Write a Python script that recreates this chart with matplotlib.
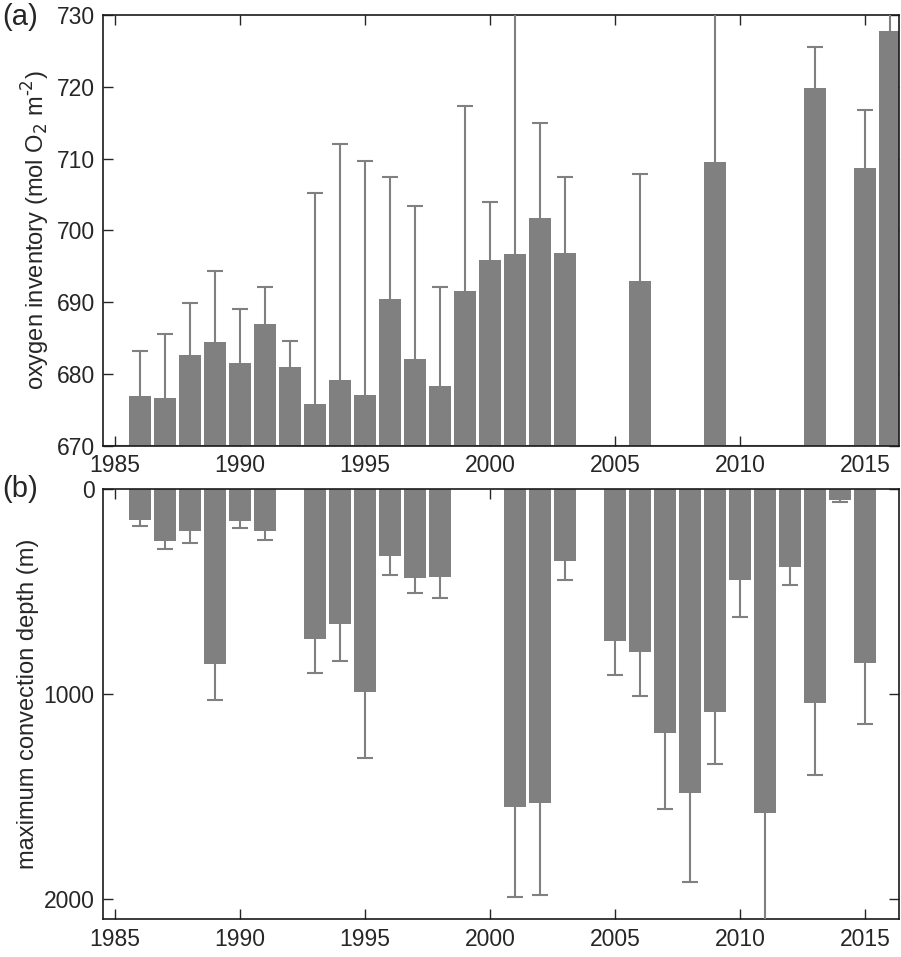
import numpy as np
import matplotlib
matplotlib.use("Agg")
import matplotlib.pyplot as plt

plt.rcParams["font.family"] = ["Liberation Sans", "DejaVu Sans"]

# (a) oxygen inventory, upper error bar end
o2_years = [1986, 1987, 1988, 1989, 1990, 1991, 1992, 1993, 1994, 1995, 1996,
            1997, 1998, 1999, 2000, 2001, 2002, 2003, 2006, 2009, 2013, 2015, 2016]
o2_value = [676.9, 676.6, 682.6, 684.4, 681.5, 687.0, 681.0, 675.8, 679.2, 677.1, 690.4,
            682.1, 678.3, 691.6, 695.9, 696.7, 701.7, 696.8, 692.9, 709.5, 719.8, 708.7, 727.8]
o2_upper = [683.2, 685.5, 689.9, 694.3, 689.0, 692.1, 684.6, 705.2, 712.0, 709.7, 707.5,
            703.4, 692.1, 717.3, 704.0, 740.0, 715.0, 707.5, 707.8, 740.0, 725.5, 716.8, 740.0]

# (b) maximum convection depth, lower (deeper) error bar end
mcd_years = [1986, 1987, 1988, 1989, 1990, 1991, 1993, 1994, 1995, 1996, 1997, 1998,
             2001, 2002, 2003, 2005, 2006, 2007, 2008, 2009, 2010, 2011, 2012, 2013, 2014, 2015]
mcd_value = [151, 252, 205, 852, 156, 205, 730, 659, 989, 327, 433, 429,
             1554, 1530, 353, 740, 794, 1189, 1486, 1086, 446, 1582, 379, 1042, 52, 847]
mcd_lower = [180, 293, 263, 1029, 190, 249, 896, 839, 1311, 420, 507, 530,
             1989, 1980, 442, 907, 1010, 1561, 1920, 1341, 623, 2250, 468, 1398, 63, 1146]

xticks = [1985, 1990, 1995, 2000, 2005, 2010, 2015]

BAR = "#808080"
TXT = "#262626"

fig = plt.figure(figsize=(9.01, 9.57), dpi=100)
ax1 = fig.add_axes([0.1143, 0.5343, 0.8835, 0.4500])
ax2 = fig.add_axes([0.1143, 0.0394, 0.8835, 0.4496])


def style(ax):
    ax.set_xlim(1984.52, 2016.36)
    ax.set_xticks(xticks)
    ax.tick_params(direction="in", length=7, width=1, top=True, right=True,
                   labelsize=16.5, colors=TXT, pad=6)
    for s in ax.spines.values():
        s.set_linewidth(1.2)
        s.set_color("#1a1a1a")


def one_sided_err(ax, x, v, end):
    # stem from bar end to error end, with a cap only at the far end
    ax.vlines(x, v, end, color=BAR, lw=1.5, zorder=3)
    ax.plot(x, end, ls="none", marker="_", ms=11, mew=1.5, color=BAR, zorder=3)


ax1.bar(o2_years, o2_value, width=0.87, color=BAR, zorder=2)
one_sided_err(ax1, o2_years, o2_value, o2_upper)
ax1.axhline(670, color=BAR, lw=1.5, zorder=1)
ax1.set_ylim(670, 730)
ax1.set_yticks(np.arange(670, 731, 10))
style(ax1)
ax1.set_ylabel(r"oxygen inventory (mol O$_{\mathrm{2}}$ m$^{\text{-2}}$)", fontsize=17,
               color=TXT, labelpad=3)
fig.text(0.002, 0.982, "(a)", fontsize=21, color=TXT, va="center", ha="left")

ax2.bar(mcd_years, mcd_value, width=0.87, color=BAR, zorder=2)
one_sided_err(ax2, mcd_years, mcd_value, mcd_lower)
ax2.set_ylim(2100, 0)
ax2.set_yticks([0, 1000, 2000])
style(ax2)
ax2.set_ylabel("maximum convection depth (m)", fontsize=17, color=TXT, labelpad=3)
fig.text(0.002, 0.489, "(b)", fontsize=21, color=TXT, va="center", ha="left")

fig.savefig("out.png", dpi=100)
